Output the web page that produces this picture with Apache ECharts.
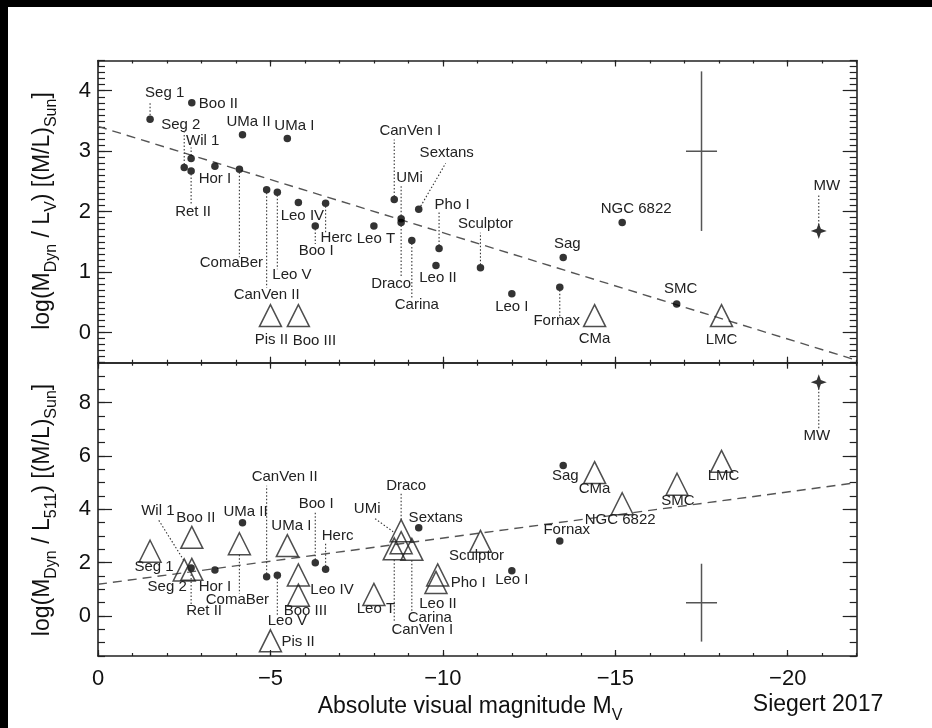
<!DOCTYPE html>
<html><head><meta charset="utf-8">
<script src="https://cdn.jsdelivr.net/npm/echarts@6/dist/echarts.min.js"></script>
<style>html,body{margin:0;padding:0;background:#fff}#c{width:932px;height:728px}</style>
</head><body><div id="c"></div><script>
// ---------- data ----------
const xTicks = [0, -5, -10, -15, -20];
const yTicksTop = [0, 1, 2, 3, 4];
const yTicksBottom = [0, 2, 4, 6, 8];

// top panel: log(M_dyn / L_V)
const topDotNames = ['Seg 1','Boo II','Seg 2','Wil 1','Ret II','Hor I','UMa II','ComaBer','UMa I','CanVen II','Leo V','Leo IV','Herc','Boo I','Leo T','CanVen I','UMi','Draco','Sextans','Carina','Pho I','Leo II','Sculptor','Leo I','Sag','Fornax','NGC 6822','SMC'];
const topDotMv = [-1.51,-2.72,-2.50,-2.70,-2.70,-3.39,-4.19,-4.10,-5.49,-4.89,-5.20,-5.81,-6.60,-6.30,-8.00,-8.59,-8.79,-8.79,-9.30,-9.10,-9.89,-9.80,-11.09,-12.00,-13.49,-13.39,-15.20,-16.78];
const topDotLogML = [3.53,3.80,2.73,2.88,2.67,2.75,3.27,2.70,3.21,2.36,2.32,2.15,2.14,1.76,1.76,2.20,1.88,1.82,2.04,1.52,1.39,1.11,1.07,0.64,1.24,0.75,1.82,0.47];
const topTriNames = ['Pis II','Boo III','CMa','LMC'];
const topTriMv = [-5.00,-5.81,-14.40,-18.08];
const topTriLogML = [0.28,0.28,0.28,0.28];
const topMWNames = ['MW'];
const topMWMv = [-20.9];
const topMWLogML = [1.68];
const topFit = [[0, 3.41], [-22, -0.46]];
const topErr = [[-17.5, 3.0, 0.45, 1.32]];

// bottom panel: log(M_dyn / L_511)
const botDotNames = ['Ret II','Hor I','UMa II','CanVen II','Leo V','Boo I','Herc','Sextans','Leo I','Fornax','Sag'];
const botDotMv = [-2.70,-3.39,-4.19,-4.89,-5.20,-6.30,-6.60,-9.30,-12.00,-13.39,-13.49];
const botDotLogML = [1.80,1.73,3.50,1.47,1.53,2.00,1.75,3.31,1.70,2.81,5.64];
const botTriNames = ['Seg 1','Boo II','Seg 2','Wil 1','ComaBer','UMa I','Leo IV','Boo III','Pis II','Leo T','Draco','UMi','CanVen I','Carina','Pho I','Leo II','Sculptor','CMa','NGC 6822','SMC','LMC'];
const botTriMv = [-1.51,-2.72,-2.50,-2.72,-4.10,-5.49,-5.81,-5.81,-5.00,-8.00,-8.79,-8.79,-8.59,-9.10,-9.85,-9.80,-11.09,-14.40,-15.20,-16.79,-18.08];
const botTriLogML = [2.43,2.95,1.73,1.75,2.71,2.64,1.54,0.78,-0.93,0.81,3.20,2.75,2.52,2.50,1.54,1.26,2.80,5.38,4.21,4.94,5.80];
const botMWNames = ['MW'];
const botMWMv = [-20.9];
const botMWLogML = [8.77];
const botFit = [[0, 1.19], [-22, 5.00]];
const botErr = [[-17.5, 0.5, 0.45, 1.46]];

// ---------- label layout (pixel offsets from marker) ----------
const topLayout = {
  'Seg 1':{dx:-5,dy:-26,a:'left',ld:[0,-4,0,-17]}, 'Boo II':{dx:7,dy:1,a:'left'},
  'Seg 2':{dx:-23,dy:-43,a:'left',ld:[0,-3,0,-35]}, 'Wil 1':{dx:-5,dy:-18,a:'left',ld:[0,-3,0,-11]},
  'Ret II':{dx:2,dy:41,ld:[0,3,0,34]}, 'Hor I':{dx:0,dy:13}, 'UMa II':{dx:6,dy:-13}, 'UMa I':{dx:7,dy:-13},
  'ComaBer':{dx:-8,dy:94,ld:[0,3,0,88]}, 'CanVen II':{dx:0,dy:105,ld:[0,3,0,98]},
  'Leo V':{dx:-5,dy:83,a:'left',ld:[0,3,0,77]}, 'Leo IV':{dx:4,dy:13}, 'Herc':{dx:-5,dy:35,a:'left',ld:[0,3,0,29]},
  'Boo I':{dx:1,dy:25,ld:[0,3,0,18]}, 'Leo T':{dx:2,dy:13}, 'CanVen I':{dx:16,dy:-69,ld:[0,-3,0,-60]},
  'UMi':{dx:-5,dy:-41,a:'left',ld:[0,-3,0,-33]}, 'Draco':{dx:-10,dy:61,ld:[0,3,0,55]},
  'Sextans':{dx:28,dy:-56,ld:[2,-3,27,-46]}, 'Carina':{dx:5,dy:64,ld:[0,3,0,58]},
  'Pho I':{dx:13,dy:-44,ld:[0,-3,0,-36]}, 'Leo II':{dx:2,dy:12}, 'Sculptor':{dx:5,dy:-44,ld:[0,-3,0,-35]},
  'Leo I':{dx:0,dy:13}, 'Sag':{dx:4,dy:-14}, 'Fornax':{dx:-3,dy:34,ld:[0,3,0,29]},
  'NGC 6822':{dx:14,dy:-14}, 'SMC':{dx:4,dy:-15},
  'Pis II':{dx:1,dy:24}, 'Boo III':{dx:16,dy:25}, 'CMa':{dx:0,dy:23}, 'LMC':{dx:0,dy:24},
  'MW':{dx:8,dy:-45,ld:[0,-6,0,-36]}
};
const botLayout = {
  'Seg 1':{dx:4,dy:16}, 'Boo II':{dx:4,dy:-19}, 'Wil 1':{dx:-34,dy:-58,ld:[-33,-49,-8,-9]},
  'Seg 2':{dx:-17,dy:17}, 'Ret II':{dx:13,dy:43,ld:[0,3,0,37]}, 'Hor I':{dx:0,dy:17}, 'UMa II':{dx:3,dy:-11},
  'ComaBer':{dx:-2,dy:56,ld:[0,11,0,50]}, 'CanVen II':{dx:18,dy:-100,ld:[0,-3,0,-91]},
  'Leo V':{dx:10,dy:46,ld:[0,3,0,40]}, 'UMa I':{dx:4,dy:-20}, 'Leo IV':{dx:12,dy:15,a:'left'},
  'Boo III':{dx:7,dy:16}, 'Boo I':{dx:1,dy:-59,ld:[0,-3,0,-52]}, 'Herc':{dx:12,dy:-33,ld:[0,-3,0,-26]},
  'Pis II':{dx:11,dy:1,a:'left'}, 'Leo T':{dx:2,dy:14}, 'UMi':{dx:-34,dy:-34,ld:[-26,-24,-8,-11]},
  'Draco':{dx:5,dy:-45,ld:[0,-11,0,-38]}, 'CanVen I':{dx:28,dy:81,ld:[0,11,0,74]},
  'Carina':{dx:18,dy:69,ld:[0,11,0,62]}, 'Leo II':{dx:2,dy:21}, 'Pho I':{dx:13,dy:8,a:'left'},
  'Sextans':{dx:17,dy:-10}, 'Sculptor':{dx:-4,dy:15}, 'Leo I':{dx:0,dy:9}, 'Fornax':{dx:7,dy:-11},
  'Sag':{dx:2,dy:10}, 'CMa':{dx:0,dy:16}, 'NGC 6822':{dx:-2,dy:16}, 'SMC':{dx:1,dy:17}, 'LMC':{dx:2,dy:15},
  'MW':{dx:-2,dy:54,ld:[0,6,0,46]}
};

// ---------- helpers ----------
const F = '"Liberation Sans", Arial, Helvetica, sans-serif';
const AX = '#222';
function rng(a, b, s) { const r = []; for (let i = 0; i <= Math.round((b - a) / s); i++) r.push(+(a + i * s).toFixed(3)); return r; }
const xMinor = rng(-22, 0, 1);
const yMinorTop = rng(-0.5, 4.5, 0.1);
const yMinorBot = rng(-1.5, 9.5, 0.5);

function xAx(gi, pos, ticks, len, line, label) {
  return { type:'value', gridIndex:gi, position:pos, min:-22, max:0, inverse:true,
    axisLine:{show:line, onZero:false, lineStyle:{color:AX, width:1.6}},
    axisTick:{show:true, inside:true, length:len, customValues:ticks, lineStyle:{color:AX, width:1.2}},
    axisLabel:{show:!!label, customValues:ticks, margin:12, color:'#111', fontSize:22, fontFamily:F,
      formatter: v => v === 0 ? '0' : '\u2212' + Math.abs(v)},
    splitLine:{show:false} };
}
function yAx(gi, pos, min, max, ticks, len, line, label) {
  return { type:'value', gridIndex:gi, position:pos, min:min, max:max,
    axisLine:{show:line, onZero:false, lineStyle:{color:AX, width:1.6}},
    axisTick:{show:true, inside:true, length:len, customValues:ticks, lineStyle:{color:AX, width:1.2}},
    axisLabel:{show:!!label, customValues:ticks, margin:7, color:'#111', fontSize:22, fontFamily:F},
    splitLine:{show:false} };
}
function pts(mv, v) { return mv.map((m, i) => [m, v[i]]); }
function dots(mv, v, xi, yi) {
  return { type:'scatter', xAxisIndex:xi, yAxisIndex:yi, data:pts(mv, v), symbol:'circle', symbolSize:7.5,
    itemStyle:{color:'#000'}, silent:true, z:4 };
}
function tris(mv, v, xi, yi) {
  return { type:'scatter', xAxisIndex:xi, yAxisIndex:yi, data:pts(mv, v), symbol:'triangle', symbolSize:[22,22],
    itemStyle:{color:'rgba(0,0,0,0)', borderColor:'#222', borderWidth:1.5}, silent:true, z:4 };
}
const STAR = 'path://M10,0 L12.6,7.4 L20,10 L12.6,12.6 L10,20 L7.4,12.6 L0,10 L7.4,7.4 Z';
function star(mv, v, xi, yi) {
  return { type:'scatter', xAxisIndex:xi, yAxisIndex:yi, data:pts(mv, v), symbol:STAR, symbolSize:16,
    itemStyle:{color:'#000'}, silent:true, z:4 };
}
function fit(d, xi, yi) {
  return { type:'line', xAxisIndex:xi, yAxisIndex:yi, data:d, symbol:'none', silent:true, z:3,
    lineStyle:{color:'#555', width:1.4, type:[9,6]} };
}
function err(d, xi, yi) {
  return { type:'custom', xAxisIndex:xi, yAxisIndex:yi, data:d, silent:true, z:3,
    renderItem(p, api) {
      const x = api.value(0), y = api.value(1), ex = api.value(2), ey = api.value(3);
      const a = api.coord([x - ex, y]), b = api.coord([x + ex, y]);
      const c = api.coord([x, y - ey]), e = api.coord([x, y + ey]);
      const st = {stroke:'#555', lineWidth:1.5};
      return {type:'group', children:[
        {type:'line', shape:{x1:a[0], y1:a[1], x2:b[0], y2:b[1]}, style:st},
        {type:'line', shape:{x1:c[0], y1:c[1], x2:e[0], y2:e[1]}, style:st}]};
    } };
}
function labels(names, mv, v, layout, xi, yi) {
  return { type:'custom', xAxisIndex:xi, yAxisIndex:yi, clip:false, silent:true, z:5,
    data: names.map((n, i) => ({name:n, value:[mv[i], v[i]]})),
    renderItem(params, api) {
      const p = api.coord([api.value(0), api.value(1)]);
      const n = names[params.dataIndex];
      const L = layout[n] || {dx:0, dy:14};
      const ch = [];
      if (L.ld) ch.push({type:'line', shape:{x1:p[0]+L.ld[0], y1:p[1]+L.ld[1], x2:p[0]+L.ld[2], y2:p[1]+L.ld[3]},
        style:{stroke:'#333', lineWidth:1.1, lineDash:[1.5,2]}});
      ch.push({type:'text', style:{text:n, x:p[0]+L.dx, y:p[1]+L.dy, align:L.a || 'center', verticalAlign:'middle',
        fill:'#222', font:'15px ' + F}});
      return {type:'group', children:ch};
    } };
}

// ---------- chart ----------
const chart = echarts.init(document.getElementById('c'), null, {renderer:'canvas'});
const G0 = {left:98, top:60.5, width:758.7, height:302.2};
const G1 = {left:98, top:362.7, width:758.7, height:293.3};
const titleRich = () => ({
  a:{fontSize:23, fontFamily:F, fill:'#111'},
  s:{fontSize:16, fontFamily:F, fill:'#111', padding:[18,0,0,0]}
});
chart.setOption({
  backgroundColor:'#fff',
  animation:false,
  grid:[G0, G1],
  xAxis:[
    xAx(0,'top',xTicks,6,true,false), xAx(0,'top',xMinor,3,false,false),
    xAx(0,'bottom',xTicks,6,true,false), xAx(0,'bottom',xMinor,3,false,false),
    xAx(1,'top',xTicks,6,true,false), xAx(1,'top',xMinor,3,false,false),
    xAx(1,'bottom',xTicks,6,true,true), xAx(1,'bottom',xMinor,3,false,false)
  ],
  yAxis:[
    yAx(0,'left',-0.5,4.5,yTicksTop,14,true,true), yAx(0,'left',-0.5,4.5,yMinorTop,7,false,false),
    yAx(0,'right',-0.5,4.5,yTicksTop,14,true,false), yAx(0,'right',-0.5,4.5,yMinorTop,7,false,false),
    yAx(1,'left',-1.5,9.5,yTicksBottom,14,true,true), yAx(1,'left',-1.5,9.5,yMinorBot,7,false,false),
    yAx(1,'right',-1.5,9.5,yTicksBottom,14,true,false), yAx(1,'right',-1.5,9.5,yMinorBot,7,false,false)
  ],
  series:[
    fit(topFit,2,0), err(topErr,2,0),
    dots(topDotMv, topDotLogML, 2, 0), tris(topTriMv, topTriLogML, 2, 0), star(topMWMv, topMWLogML, 2, 0),
    labels(topDotNames, topDotMv, topDotLogML, topLayout, 2, 0),
    labels(topTriNames, topTriMv, topTriLogML, topLayout, 2, 0),
    labels(topMWNames, topMWMv, topMWLogML, topLayout, 2, 0),
    fit(botFit,6,4), err(botErr,6,4),
    dots(botDotMv, botDotLogML, 6, 4), tris(botTriMv, botTriLogML, 6, 4), star(botMWMv, botMWLogML, 6, 4),
    labels(botDotNames, botDotMv, botDotLogML, botLayout, 6, 4),
    labels(botTriNames, botTriMv, botTriLogML, botLayout, 6, 4),
    labels(botMWNames, botMWMv, botMWLogML, botLayout, 6, 4)
  ],
  graphic:[
    {type:'rect', shape:{x:0, y:0, width:932, height:7}, style:{fill:'#000'}, z:100},
    {type:'rect', shape:{x:0, y:0, width:8, height:728}, style:{fill:'#000'}, z:100},
    {type:'text', x:43, y:211, rotation:Math.PI/2, z:50, style:{
      text:'{a|log(M}{s|Dyn}{a| / L}{s|V}{a|) [(M/L)}{s|Sun}{a|]}', rich:titleRich(), align:'center', verticalAlign:'middle'}},
    {type:'text', x:43, y:510, rotation:Math.PI/2, z:50, style:{
      text:'{a|log(M}{s|Dyn}{a| / L}{s|511}{a|) [(M/L)}{s|Sun}{a|]}', rich:titleRich(), align:'center', verticalAlign:'middle'}},
    {type:'text', x:470, y:707, z:50, style:{
      text:'{a|Absolute visual magnitude M}{s|V}', rich:titleRich(), align:'center', verticalAlign:'middle'}},
    {type:'text', x:818, y:705, z:50, style:{
      text:'Siegert 2017', font:'23px ' + F, fill:'#111', align:'center', verticalAlign:'middle'}}
  ]
});
</script></body></html>
